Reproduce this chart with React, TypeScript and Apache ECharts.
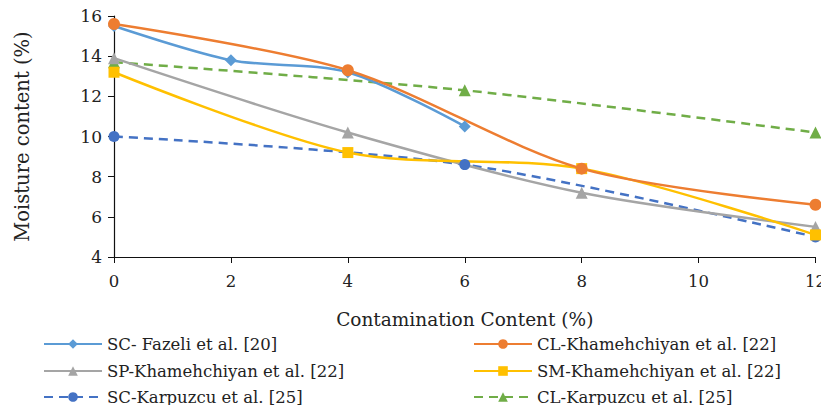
import React, { useEffect, useRef } from "react";
import * as echarts from "echarts";

const xTicks = [0, 2, 4, 6, 8, 10, 12];

const fazeliX = [0, 2, 4, 6];
const fazeliY = [15.5, 13.8, 13.2, 10.5];

const clKhX = [0, 4, 8, 12];
const clKhY = [15.6, 13.3, 8.4, 6.6];

const spKhX = [0, 4, 8, 12];
const spKhY = [13.9, 10.2, 7.2, 5.5];

const smKhX = [0, 4, 8, 12];
const smKhY = [13.2, 9.2, 8.4, 5.1];

const scKaX = [0, 6, 12];
const scKaY = [10.0, 8.6, 5.0];

const clKaX = [0, 6, 12];
const clKaY = [13.7, 12.3, 10.2];

const names = [
  "SC- Fazeli et al. [20]",
  "CL-Khamehchiyan et al. [22]",
  "SP-Khamehchiyan et al. [22]",
  "SM-Khamehchiyan et al. [22]",
  "SC-Karpuzcu et al. [25]",
  "CL-Karpuzcu et al. [25]",
];

const FONT = "DejaVu Serif";

function pairs(xs: number[], ys: number[]) {
  return xs.map((x, i) => [x, ys[i]]);
}

export default function App() {
  const ref = useRef<HTMLDivElement>(null);
  useEffect(() => {
    if (!ref.current) return;
    const chart = echarts.init(ref.current, null, { renderer: "svg" });
    const mk = (
      name: string,
      data: number[][],
      color: string,
      symbol: string,
      dashed: boolean,
      size = 10
    ) => ({
      name,
      type: "line",
      data,
      smooth: 0.3,
      symbol,
      symbolSize: size,
      showAllSymbol: true,
      itemStyle: { color },
      lineStyle: { color, width: 2.5, type: dashed ? [9, 6] : "solid" },
      z: 2,
    });
    const legendText = { fontFamily: FONT, fontSize: 16.5, color: "#222", lineHeight: 20 };
    const legendPos = [
      { left: 43, center: 344 },
      { left: 473, center: 344 },
      { left: 43, center: 371 },
      { left: 473, center: 371 },
      { left: 43, center: 397 },
      { left: 473, center: 397 },
    ];
    chart.setOption({
      animation: false,
      grid: { left: 114, right: 11, top: 16, bottom: 156, containLabel: false },
      xAxis: {
        type: "value",
        min: 0,
        max: 12,
        interval: 2,
        name: "Contamination Content (%)",
        nameLocation: "middle",
        nameGap: 53,
        nameTextStyle: { fontFamily: FONT, fontSize: 18.5, color: "#222" },
        axisLine: { lineStyle: { color: "#111", width: 1.2 } },
        axisTick: { show: true, length: 6, lineStyle: { color: "#111" } },
        axisLabel: {
          fontFamily: FONT,
          fontSize: 16.5,
          color: "#222",
          margin: 16,
          formatter: (v: number) => (xTicks.includes(v) ? String(v) : ""),
        },
        splitLine: { show: false },
      },
      yAxis: {
        type: "value",
        min: 4,
        max: 16,
        interval: 2,
        name: "Moisture content (%)",
        nameLocation: "middle",
        nameGap: 82,
        nameTextStyle: { fontFamily: FONT, fontSize: 19.5, color: "#222" },
        axisLine: { show: true, lineStyle: { color: "#111", width: 1.2 } },
        axisTick: { show: true, length: 6, lineStyle: { color: "#111" } },
        axisLabel: { fontFamily: FONT, fontSize: 17, color: "#222", margin: 12 },
        splitLine: { show: false },
      },
      legend: names.map((n, i) => ({
        orient: "horizontal",
        left: legendPos[i].left,
        top: legendPos[i].center - 10,
        padding: 0,
        itemWidth: 58,
        itemHeight: 12,
        textStyle: legendText,
        data: [n],
      })),
      series: [
        mk(names[5], pairs(clKaX, clKaY), "#70AD47", "triangle", true, 12),
        mk(names[4], pairs(scKaX, scKaY), "#4472C4", "circle", true, 11),
        mk(names[2], pairs(spKhX, spKhY), "#A5A5A5", "triangle", false, 12),
        mk(names[3], pairs(smKhX, smKhY), "#FFC000", "rect", false, 11),
        mk(names[0], pairs(fazeliX, fazeliY), "#5B9BD5", "diamond", false, 12),
        mk(names[1], pairs(clKhX, clKhY), "#ED7D31", "circle", false, 12),
      ],
    });
    return () => chart.dispose();
  }, []);
  return <div ref={ref} style={{ width: 829, height: 413, margin: -8 }} />;
}
